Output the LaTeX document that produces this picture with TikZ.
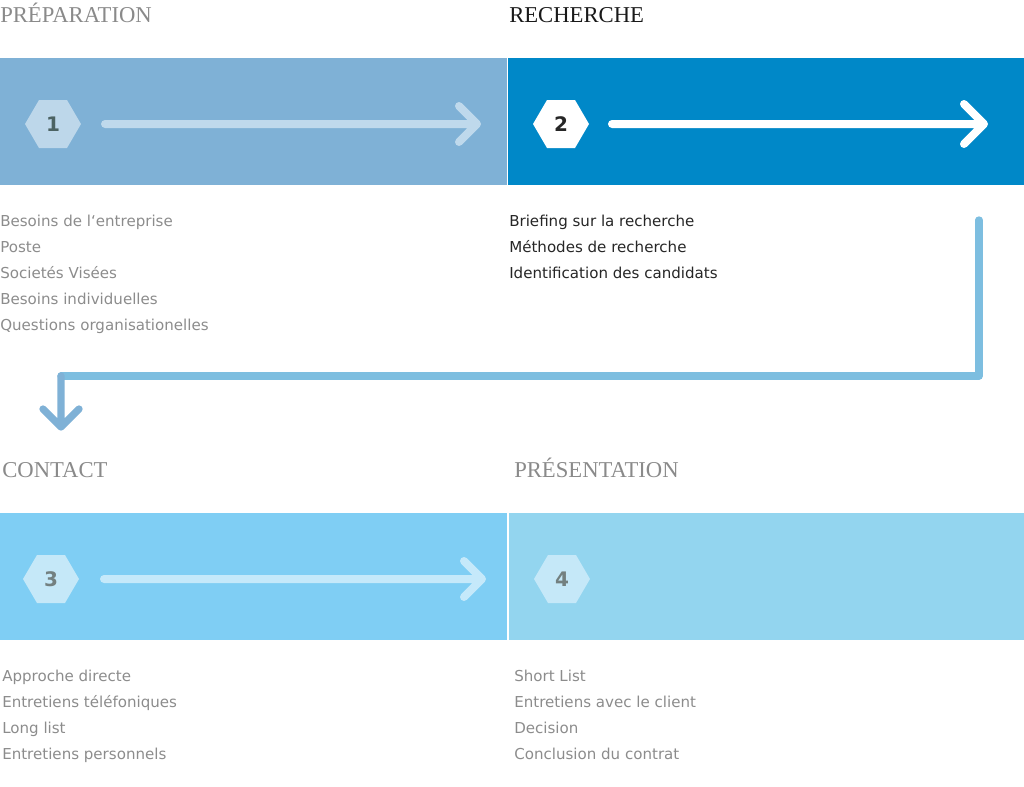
\documentclass[tikz,border=0pt]{standalone}
\usepackage{fontspec}
\setmainfont{Liberation Serif}
\newfontfamily\bodyf{DejaVu Sans}
\definecolor{bA}{HTML}{7FB1D6}
\definecolor{bB}{HTML}{0088C8}
\definecolor{bC}{HTML}{7FCEF4}
\definecolor{bD}{HTML}{93D5EF}
\definecolor{hA}{HTML}{BDD7EA}
\definecolor{hC}{HTML}{C5E8F8}
\definecolor{arA}{HTML}{BFD9EC}
\definecolor{arC}{HTML}{C5E9FA}
\definecolor{conn}{HTML}{7DBEE0}
\definecolor{gtxt}{HTML}{8C8C8C}
\definecolor{htxt}{HTML}{8A8A8A}
\begin{document}
\begin{tikzpicture}[x=0.75pt,y=-0.75pt,
  head/.style={anchor=base west,inner sep=0,font=\fontsize{17}{20}\selectfont,text=htxt},
  body/.style={anchor=north west,inner sep=0,align=left,font=\bodyf\fontsize{11.3}{19.5}\selectfont,text=gtxt},
  num/.style={font=\bodyf\bfseries\fontsize{15}{18}\selectfont,inner sep=0},
  flow/.style={line width=6pt,line cap=round,line join=round}]
\useasboundingbox (0,0) rectangle (1024,786);
\fill[bA] (0,58) rectangle (507,185);
\fill[bB] (508,58) rectangle (1024,185);
\fill[bC] (0,513) rectangle (507,640);
\fill[bD] (509,513) rectangle (1024,640);
\node[head] (h1) at (0,22) {PRÉPARATION};
\node[head,text=black!90] (h2) at (509,22) {RECHERCHE};
\node[head] (h3) at (2,477) {CONTACT};
\node[head] (h4) at (514,477) {PRÉSENTATION};
\newcommand\hexa[4]{\fill[#3] (#1-28,#2) -- (#1-14,#2-24) -- (#1+14,#2-24) -- (#1+28,#2) -- (#1+14,#2+24) -- (#1-14,#2+24) -- cycle;}
\hexa{53}{124}{hA}{}
\hexa{561}{124}{white}{}
\hexa{51}{579}{hC}{}
\hexa{562}{579}{hC}{}
\node[num,text=black!55!teal!40!gray] (n1) at (53,124) {1};
\node[num,text=black!85] (n2) at (561,124) {2};
\node[num,text=gray!90!teal] (n3) at (51,579) {3};
\node[num,text=gray!90!teal] (n4) at (562,579) {4};
\coordinate (a1s) at (105,124); \coordinate (a1e) at (477,124);
\coordinate (a2s) at (612,124); \coordinate (a2e) at (984,124);
\coordinate (a3s) at (104,579); \coordinate (a3e) at (482,579);
\draw[flow,arA] (a1s) -- (a1e) ([shift={(-18,-18)}]a1e) -- (a1e) -- ([shift={(-18,18)}]a1e);
\draw[flow,white] (a2s) -- (a2e) ([shift={(-20,-20)}]a2e) -- (a2e) -- ([shift={(-20,20)}]a2e);
\draw[flow,arC] (a3s) -- (a3e) ([shift={(-18,-18)}]a3e) -- (a3e) -- ([shift={(-18,18)}]a3e);
\coordinate (c0) at (979,220); \coordinate (c1) at (979,376);
\coordinate (c2) at (61,376); \coordinate (c3) at (61,427);
\draw[line width=5.5pt,conn,line cap=round,line join=round] (c0) -- (c1) -- (c2);
\draw[line width=5.5pt,color=bA,line cap=round,line join=round] (c2) -- (c3) ([shift={(-18,-18)}]c3) -- (c3) -- ([shift={(18,-18)}]c3);
\node[body] (t1) at (0,215) {Besoins de l‘entreprise\\Poste\\Societés Visées\\Besoins individuelles\\Questions organisationelles};
\node[body,text=black!85] (t2) at (509,215) {Briefing sur la recherche\\Méthodes de recherche\\Identification des candidats};
\node[body] (t3) at (2,670) {Approche directe\\Entretiens téléfoniques\\Long list\\Entretiens personnels};
\node[body] (t4) at (514,670) {Short List\\Entretiens avec le client\\Decision\\Conclusion du contrat};
\end{tikzpicture}
\end{document}
